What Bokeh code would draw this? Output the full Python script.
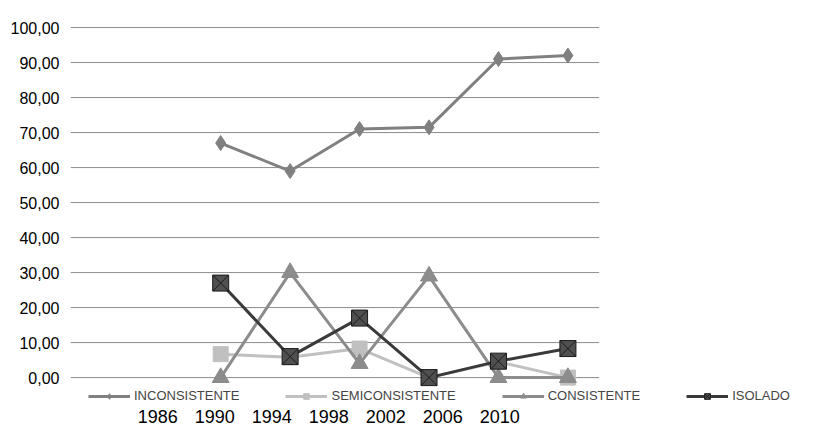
from bokeh.plotting import figure
from bokeh.models import (Range1d, LinearAxis, FixedTicker, CustomJSTickFormatter,
                          Legend, LegendItem)
from bokeh.embed import file_html
from bokeh.resources import INLINE

years = [1990, 1994, 1998, 2002, 2006, 2010]
year_labels = ["1986", "1990", "1994", "1998", "2002", "2006", "2010"]
inconsistente = [67.0, 59.0, 71.0, 71.5, 91.0, 92.0]
semiconsistente = [6.7, 5.8, 8.3, 0.0, 4.5, 0.0]
consistente = [0.0, 30.0, 4.0, 29.0, 0.0, 0.0]
isolado = [27.0, 6.0, 17.0, 0.0, 4.7, 8.3]
y_ticks = list(range(0, 101, 10))

FONT = "Liberation Sans"
X0, X1 = 1981.35, 2011.8   # span of the plotting area in years

p = figure(width=815, height=425, output_backend="svg", toolbar_location=None,
           x_range=Range1d(X0, 2023.8), y_range=Range1d(-7.4, 100.3),
           x_axis_location=None, min_border_left=70, min_border_right=8,
           min_border_top=26, min_border_bottom=20)
p.outline_line_color = None
p.grid.visible = False
# horizontal grid only over the plotting area; legend spills wider
p.segment(x0=X0, x1=X1, y0=y_ticks, y1=y_ticks, line_color="#8c8c8c", line_width=1)

p.yaxis.ticker = FixedTicker(ticks=y_ticks)
p.yaxis.formatter = CustomJSTickFormatter(code="return tick.toFixed(2).replace('.', ',')")
p.yaxis.axis_line_color = None
p.yaxis.major_tick_line_color = None
p.yaxis.minor_tick_line_color = None
p.yaxis.major_label_text_font = FONT
p.yaxis.major_label_text_font_size = "16px"
p.yaxis.major_label_text_color = "#000000"

# category labels on their own scale, as in the original
p.extra_x_ranges = {"cat": Range1d(-1.53, 11.4)}
cat_axis = LinearAxis(x_range_name="cat",
                      ticker=FixedTicker(ticks=list(range(len(year_labels)))),
                      major_label_overrides={i: s for i, s in enumerate(year_labels)})
cat_axis.axis_line_color = None
cat_axis.major_tick_line_color = None
cat_axis.minor_tick_line_color = None
cat_axis.major_label_standoff = 0
cat_axis.major_label_text_font = FONT
cat_axis.major_label_text_font_size = "18px"
cat_axis.major_label_text_color = "#000000"
p.add_layout(cat_axis, "below")

r1 = [p.line(years, inconsistente, color="#808080", line_width=3),
      p.scatter(years, inconsistente, marker="diamond", size=15, color="#808080")]
r2 = [p.line(years, semiconsistente, color="#c0c0c0", line_width=3),
      p.scatter(years, semiconsistente, marker="square", size=15, color="#c0c0c0")]
r3 = [p.line(years, consistente, color="#8c8c8c", line_width=3),
      p.scatter(years, consistente, marker="triangle", size=17, color="#8c8c8c")]
r4 = [p.line(years, isolado, color="#3a3a3a", line_width=3),
      p.scatter(years, isolado, marker="square_x", size=16, fill_color="#505050",
                line_color="#1a1a1a")]

legend = Legend(items=[LegendItem(label="INCONSISTENTE", renderers=r1),
                       LegendItem(label="SEMICONSISTENTE", renderers=r2),
                       LegendItem(label="CONSISTENTE", renderers=r3),
                       LegendItem(label="ISOLADO", renderers=r4)],
                orientation="horizontal", location=(18, 0),
                glyph_width=42, glyph_height=14, spacing=46, label_standoff=4,
                background_fill_alpha=0, border_line_color=None,
                label_text_font=FONT, label_text_font_size="13px", padding=0, margin=0)
p.add_layout(legend, "center")

open("out.html", "w").write(file_html(p, INLINE))
